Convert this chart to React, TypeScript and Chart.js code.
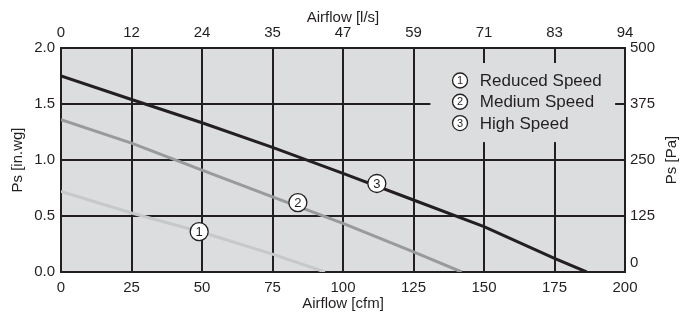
import React, { useEffect, useRef } from "react";
import { Chart, registerables } from "chart.js";

Chart.register(...registerables);

// ---- data ----
const cfmTicks = [0, 25, 50, 75, 100, 125, 150, 175, 200];
const lsTickLabels = ["0", "12", "24", "35", "47", "59", "71", "83", "94"];
const paTicks = [0, 125, 250, 375, 500];

const highX = [0, 25, 50, 75, 100, 125, 150, 175, 186.4];
const highY = [1.75, 1.54, 1.333, 1.113, 0.881, 0.643, 0.405, 0.122, 0];
const medX = [0, 25, 50, 75, 100, 125, 142.1];
const medY = [1.36, 1.15, 0.91, 0.67, 0.435, 0.18, 0];
const lowX = [0, 25, 50, 75, 93.6];
const lowY = [0.72, 0.527, 0.355, 0.16, 0];

const markerNums = ["1", "2", "3"];
const markerX = [49, 84, 112];
const markerY = [0.36, 0.62, 0.79];

const legendNums = ["1", "2", "3"];
const legendTexts = ["Reduced Speed", "Medium Speed", "High Speed"];

const FONT = "'Liberation Sans', Arial, sans-serif";
const TEXT = "#231f20";
const PLOT_BG = "#dcdddf";

const toPts = (xs: number[], ys: number[]) => xs.map((x, i) => ({ x, y: ys[i] }));

const bgPlugin = {
  id: "plotBg",
  beforeDraw(chart: any) {
    const { ctx, chartArea: a } = chart;
    ctx.save();
    ctx.fillStyle = PLOT_BG;
    ctx.fillRect(a.left, a.top, a.right - a.left, a.bottom - a.top);
    ctx.restore();
  },
};

const drawCircleNum = (ctx: any, x: number, y: number, r: number, t: string, fs: number) => {
  ctx.beginPath();
  ctx.arc(x, y, r, 0, Math.PI * 2);
  ctx.fillStyle = "#ffffff";
  ctx.fill();
  ctx.lineWidth = 1.3;
  ctx.strokeStyle = TEXT;
  ctx.stroke();
  ctx.fillStyle = TEXT;
  ctx.font = `${fs}px ${FONT}`;
  ctx.textAlign = "center";
  ctx.textBaseline = "middle";
  ctx.fillText(t, x, y + 0.5);
};

const legendPlugin = {
  id: "boxLegend",
  beforeDatasetsDraw(chart: any) {
    const { ctx } = chart;
    const xs = chart.scales.x;
    const ys = chart.scales.y;
    const x0 = xs.getPixelForValue(131);
    const x1 = xs.getPixelForValue(196.5);
    const y0 = ys.getPixelForValue(1.866);
    const y1 = ys.getPixelForValue(1.16);
    ctx.save();
    ctx.fillStyle = PLOT_BG;
    ctx.fillRect(x0, y0, x1 - x0, y1 - y0);
    const cx = xs.getPixelForValue(141.5);
    const tx = xs.getPixelForValue(148.5);
    const rowVals = [1.71, 1.52, 1.33];
    legendNums.forEach((n, i) => {
      const y = ys.getPixelForValue(rowVals[i]);
      drawCircleNum(ctx, cx, y, 7.5, n, 11);
      ctx.fillStyle = TEXT;
      ctx.font = `17px ${FONT}`;
      ctx.textAlign = "left";
      ctx.textBaseline = "middle";
      ctx.fillText(legendTexts[i], tx, y + 1);
    });
    ctx.restore();
  },
};

const markerPlugin = {
  id: "markers",
  afterDatasetsDraw(chart: any) {
    const { ctx } = chart;
    const xs = chart.scales.x;
    const ys = chart.scales.y;
    ctx.save();
    markerNums.forEach((n, i) => {
      drawCircleNum(ctx, xs.getPixelForValue(markerX[i]), ys.getPixelForValue(markerY[i]), 9, n, 13);
    });
    ctx.restore();
  },
};

// right axis labels and title (title reads bottom-to-top, the "0" sits a little higher)
const rightAxisPlugin = {
  id: "rightAxis",
  afterDraw(chart: any) {
    const { ctx, chartArea: a } = chart;
    const s = chart.scales.y2;
    ctx.save();
    ctx.fillStyle = TEXT;
    ctx.font = `15px ${FONT}`;
    ctx.textAlign = "left";
    ctx.textBaseline = "middle";
    paTicks.forEach((v) => {
      const y = s.getPixelForValue(v) - (v === 0 ? 9 : 0);
      ctx.fillText(String(v), a.right + 5, y);
    });
    ctx.font = `15px ${FONT}`;
    ctx.textAlign = "center";
    ctx.translate(a.right + 47, (a.top + a.bottom) / 2);
    ctx.rotate(-Math.PI / 2);
    ctx.fillText("Ps [Pa]", 0, 0);
    ctx.restore();
  },
};

export default function App() {
  const ref = useRef<HTMLCanvasElement | null>(null);
  useEffect(() => {
    if (!ref.current) return;
    const tickFont = { family: FONT, size: 15 };
    const titleFont = { family: FONT, size: 15 };
    const chart = new Chart(ref.current, {
      type: "line",
      data: {
        datasets: [
          { label: "Reduced Speed", data: toPts(lowX, lowY), borderColor: "#c7c8ca", borderWidth: 3, pointRadius: 0, tension: 0, xAxisID: "x", yAxisID: "y" },
          { label: "Medium Speed", data: toPts(medX, medY), borderColor: "#999a9c", borderWidth: 3, pointRadius: 0, tension: 0, xAxisID: "x", yAxisID: "y" },
          { label: "High Speed", data: toPts(highX, highY), borderColor: "#231f20", borderWidth: 3, pointRadius: 0, tension: 0, xAxisID: "x", yAxisID: "y" },
        ],
      },
      options: {
        responsive: false,
        animation: false,
        layout: { padding: 0 },
        plugins: { legend: { display: false }, tooltip: { enabled: false } },
        scales: {
          x: {
            type: "linear",
            position: "bottom",
            min: 0,
            max: 200,
            afterBuildTicks: (s: any) => { s.ticks = cfmTicks.map((v) => ({ value: v })); },
            afterFit: (s: any) => { s.height = 41; },
            ticks: { font: tickFont, color: TEXT, padding: 7, maxRotation: 0, autoSkip: false },
            grid: { color: TEXT, lineWidth: 2, drawTicks: false },
            border: { display: true, color: TEXT, width: 2 },
            title: { display: true, text: "Airflow [cfm]", font: titleFont, color: TEXT, padding: { top: 0, bottom: 0 } },
          },
          x2: {
            type: "linear",
            position: "top",
            min: 0,
            max: 200,
            afterBuildTicks: (s: any) => { s.ticks = cfmTicks.map((v) => ({ value: v })); },
            afterFit: (s: any) => { s.height = 48; },
            ticks: {
              font: tickFont,
              color: TEXT,
              padding: 6,
              maxRotation: 0,
              autoSkip: false,
              callback: (_v: any, i: number) => lsTickLabels[i],
            },
            grid: { display: false, drawTicks: false },
            border: { display: true, color: TEXT, width: 2 },
            title: { display: true, text: "Airflow [l/s]", font: titleFont, color: TEXT, padding: { top: 9, bottom: 0 } },
          },
          y: {
            type: "linear",
            position: "left",
            min: 0,
            max: 2,
            afterBuildTicks: (s: any) => { s.ticks = [0, 0.5, 1, 1.5, 2].map((v) => ({ value: v })); },
            afterFit: (s: any) => { s.width = 61; },
            ticks: { font: tickFont, color: TEXT, padding: 6, callback: (v: any) => Number(v).toFixed(1) },
            grid: { color: TEXT, lineWidth: 2, drawTicks: false },
            border: { display: true, color: TEXT, width: 2 },
            title: { display: true, text: "Ps [in.wg]", font: titleFont, color: TEXT, padding: { top: 9, bottom: 0 } },
          },
          y2: {
            type: "linear",
            position: "right",
            min: 0,
            max: 500,
            afterBuildTicks: (s: any) => { s.ticks = paTicks.map((v) => ({ value: v })); },
            afterFit: (s: any) => { s.width = 72; },
            ticks: { display: false },
            grid: { display: false, drawTicks: false },
            border: { display: true, color: TEXT, width: 2 },
            title: { display: false },
          },
        },
      },
      plugins: [bgPlugin, legendPlugin, markerPlugin, rightAxisPlugin],
    } as any);
    return () => chart.destroy();
  }, []);
  return (
    <div style={{ position: "fixed", left: 0, top: 0, width: 697, height: 313, background: "#fff" }}>
      <canvas ref={ref} width={697} height={313} />
    </div>
  );
}
